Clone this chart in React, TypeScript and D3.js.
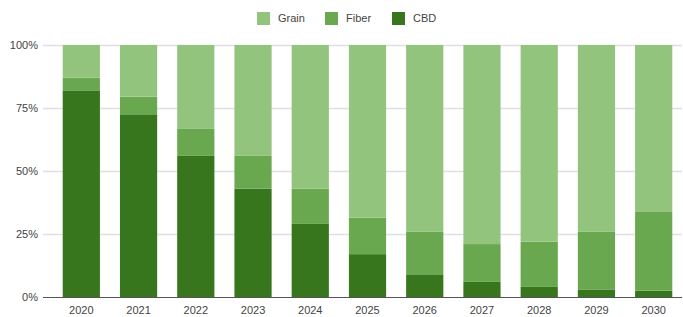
import React from "react";
import * as d3 from "d3";

const W = 683;
const H = 317;
const M = { top: 45, right: 0.7, bottom: 20, left: 52.7 };

const years = ["2020", "2021", "2022", "2023", "2024", "2025", "2026", "2027", "2028", "2029", "2030"];
const cbd = [82, 72.5, 56, 43, 29, 17, 9, 6, 4, 3, 2.5];
const fiber = [5, 7, 10.7, 13, 14, 14.5, 17, 15, 18, 23, 31.5];
const grain = [13, 20.5, 33.3, 44, 57, 68.5, 74, 79, 78, 74, 66];
const yTicks = [0, 0.25, 0.5, 0.75, 1];

const colors: Record<string, string> = { Grain: "#93c47d", Fiber: "#6aa84f", CBD: "#38761d" };

const FONT = "'Liberation Sans', Arial, sans-serif";

export default function App() {
  const rows = years.map((y, i) => {
    const total = cbd[i] + fiber[i] + grain[i];
    return { year: y, CBD: cbd[i] / total, Fiber: fiber[i] / total, Grain: grain[i] / total };
  });

  // stack order bottom -> top: CBD, Fiber, Grain
  const stack = d3.stack<any>().keys(["CBD", "Fiber", "Grain"]);
  const layers = stack(rows);

  const x = d3
    .scaleBand()
    .domain(years)
    .range([M.left, W - M.right])
    .paddingInner(0.35)
    .paddingOuter(0.175);

  const y = d3.scaleLinear().domain([0, 1]).range([H - M.bottom, M.top]);
  const fmt = d3.format(".0%");

  // legend layout
  const legendItems = [
    { name: "Grain", x: 257 },
    { name: "Fiber", x: 325 },
    { name: "CBD", x: 392 },
  ];

  return (
    <div style={{ position: "fixed", left: 0, top: 0 }}>
      <svg width={W} height={H} style={{ display: "block", background: "#fff" }}>
        {/* gridlines */}
        {yTicks.map((t) => (
          <line
            key={t}
            x1={43}
            x2={682}
            y1={Math.round(y(t)) + 0.5}
            y2={Math.round(y(t)) + 0.5}
            stroke={t === 0 ? "#555" : "#e0e0e0"}
            strokeWidth={t === 0 ? 1 : 1.5}
          />
        ))}
        {yTicks.map((t) => (
          <text
            key={"l" + t}
            x={38}
            y={y(t)}
            dy="0.35em"
            textAnchor="end"
            fontFamily={FONT}
            fontSize={11}
            fill="#444"
          >
            {fmt(t)}
          </text>
        ))}

        {/* bars */}
        {layers.map((layer) => (
          <g key={layer.key} fill={colors[layer.key]}>
            {layer.map((d, i) => (
              <rect
                key={i}
                x={x(years[i])}
                width={x.bandwidth()}
                y={y(d[1])}
                height={y(d[0]) - y(d[1])}
              />
            ))}
          </g>
        ))}

        {/* x labels */}
        {years.map((yr) => (
          <text
            key={yr}
            x={(x(yr) ?? 0) + x.bandwidth() / 2}
            y={310}
            dy="0.35em"
            textAnchor="middle"
            fontFamily={FONT}
            fontSize={11}
            fill="#444"
          >
            {yr}
          </text>
        ))}

        {/* legend */}
        {legendItems.map((it) => (
          <g key={it.name}>
            <rect x={it.x} y={12} width={13} height={13} fill={colors[it.name]} />
            <text
              x={it.x + 21}
              y={18.5}
              dy="0.35em"
              fontFamily={FONT}
              fontSize={11}
              fill="#444"
            >
              {it.name}
            </text>
          </g>
        ))}
      </svg>
    </div>
  );
}
